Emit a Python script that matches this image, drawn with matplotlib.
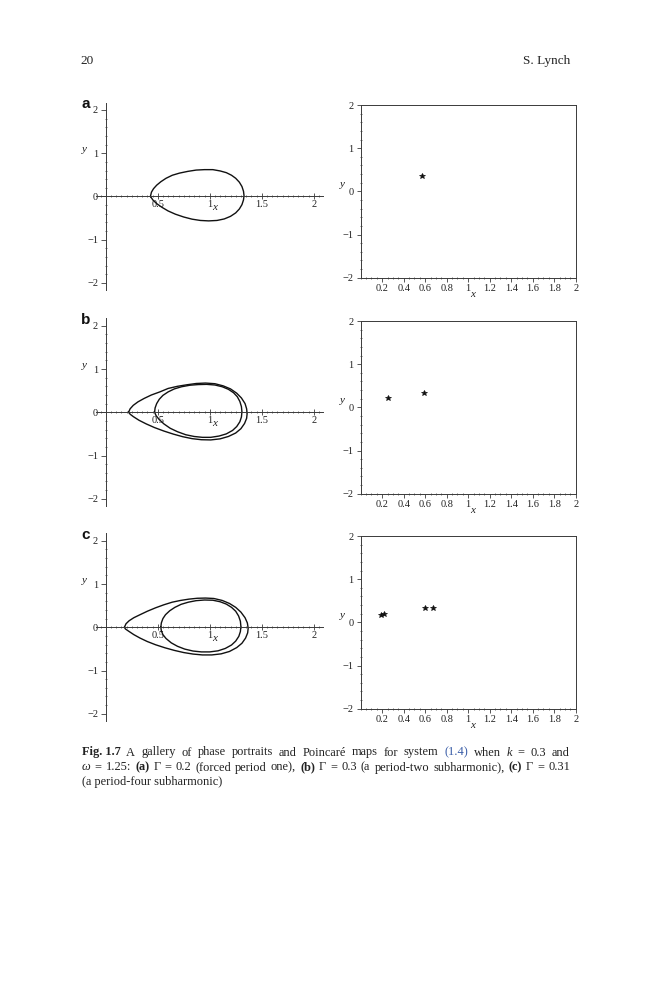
import matplotlib
matplotlib.use("Agg")
import matplotlib.pyplot as plt
from matplotlib.ticker import MultipleLocator, FixedLocator

W, H = 659, 1000

# ---------------- data ----------------
# Panel (a): period-one orbit, Gamma = 0.2
loop_a_x = [0.430, 0.440, 0.460, 0.490, 0.530, 0.580, 0.640, 0.710, 0.790, 0.870,
            0.950, 1.030, 1.100, 1.160, 1.210, 1.250, 1.285, 1.310, 1.325, 1.330,
            1.325, 1.310, 1.285, 1.250, 1.200, 1.140, 1.070, 0.990, 0.910, 0.830,
            0.750, 0.670, 0.600, 0.540, 0.490, 0.455, 0.430]
loop_a_y = [0.00, 0.10, 0.18, 0.26, 0.34, 0.42, 0.49, 0.54, 0.58, 0.61,
            0.62, 0.62, 0.59, 0.55, 0.49, 0.42, 0.33, 0.23, 0.12, 0.02,
            -0.08, -0.19, -0.29, -0.38, -0.46, -0.52, -0.555, -0.565, -0.555, -0.525,
            -0.475, -0.41, -0.335, -0.25, -0.165, -0.085, 0.00]

# Panel (b): period-two orbit, Gamma = 0.3 (outer and inner lobes)
loop_b1_x = [0.220, 0.235, 0.265, 0.310, 0.370, 0.440, 0.520, 0.600, 0.690, 0.780,
             0.870, 0.960, 1.050, 1.130, 1.200, 1.260, 1.305, 1.340, 1.355, 1.360,
             1.355, 1.335, 1.300, 1.250, 1.180, 1.100, 1.010, 0.920, 0.830, 0.740,
             0.650, 0.560, 0.470, 0.390, 0.320, 0.265, 0.235, 0.220]
loop_b1_y = [0.00, 0.08, 0.16, 0.24, 0.32, 0.40, 0.47, 0.55, 0.60, 0.635,
             0.665, 0.675, 0.66, 0.61, 0.54, 0.44, 0.33, 0.20, 0.08, -0.03,
             -0.14, -0.26, -0.38, -0.48, -0.56, -0.615, -0.64, -0.635, -0.61, -0.565,
             -0.505, -0.435, -0.355, -0.27, -0.185, -0.10, -0.045, 0.00]
loop_b2_x = [0.470, 0.475, 0.490, 0.515, 0.550, 0.600, 0.660, 0.730, 0.810, 0.890,
             0.970, 1.050, 1.120, 1.180, 1.230, 1.265, 1.290, 1.305, 1.310,
             1.305, 1.290, 1.260, 1.220, 1.160, 1.090, 1.010, 0.930, 0.850, 0.770,
             0.690, 0.620, 0.560, 0.515, 0.485, 0.470]
loop_b2_y = [0.00, 0.10, 0.20, 0.30, 0.39, 0.47, 0.54, 0.59, 0.625, 0.64,
             0.645, 0.63, 0.59, 0.53, 0.45, 0.36, 0.25, 0.13, 0.01,
             -0.11, -0.22, -0.33, -0.42, -0.50, -0.55, -0.58, -0.58, -0.56, -0.52,
             -0.45, -0.37, -0.27, -0.17, -0.08, 0.00]

# Panel (c): period-four orbit, Gamma = 0.31 (outer and inner lobes)
loop_c1_x = [0.180, 0.195, 0.225, 0.270, 0.330, 0.400, 0.480, 0.560, 0.640, 0.720,
             0.800, 0.880, 0.960, 1.040, 1.120, 1.190, 1.250, 1.300, 1.340, 1.362,
             1.370, 1.365, 1.345, 1.310, 1.260, 1.190, 1.110, 1.020, 0.930, 0.840,
             0.750, 0.660, 0.570, 0.480, 0.400, 0.330, 0.270, 0.220, 0.190, 0.180]
loop_c1_y = [0.00, 0.08, 0.15, 0.22, 0.29, 0.37, 0.45, 0.52, 0.58, 0.62,
             0.65, 0.67, 0.675, 0.665, 0.62, 0.55, 0.46, 0.35, 0.22, 0.10,
             -0.02, -0.13, -0.25, -0.37, -0.47, -0.56, -0.615, -0.64, -0.64, -0.62,
             -0.585, -0.535, -0.475, -0.405, -0.33, -0.25, -0.17, -0.09, -0.04, 0.00]
loop_c2_x = [0.530, 0.535, 0.550, 0.575, 0.615, 0.665, 0.725, 0.795, 0.870, 0.950,
             1.030, 1.100, 1.160, 1.210, 1.250, 1.278, 1.295, 1.300,
             1.295, 1.280, 1.250, 1.210, 1.150, 1.080, 1.000, 0.920, 0.840, 0.760,
             0.690, 0.630, 0.580, 0.550, 0.535, 0.530]
loop_c2_y = [0.00, 0.10, 0.20, 0.29, 0.38, 0.46, 0.53, 0.58, 0.615, 0.63,
             0.625, 0.59, 0.535, 0.46, 0.37, 0.26, 0.14, 0.02,
             -0.10, -0.21, -0.32, -0.41, -0.49, -0.545, -0.57, -0.57, -0.55, -0.505,
             -0.44, -0.36, -0.26, -0.17, -0.08, 0.00]

# Poincare map points
poinc_a_x = [0.57]
poinc_a_y = [0.36]
poinc_b_x = [0.25, 0.59]
poinc_b_y = [0.21, 0.34]
poinc_c_x = [0.19, 0.22, 0.60, 0.67]
poinc_c_y = [0.18, 0.20, 0.34, 0.34]

phase_xticks = [0.5, 1, 1.5, 2]
phase_xlabels = ["0.5", "1", "1.5", "2"]
yticks = [-2, -1, 0, 1, 2]
ylabels = ["\u22122", "\u22121", "0", "1", "2"]
map_xticks = [0.2, 0.4, 0.6, 0.8, 1.0, 1.2, 1.4, 1.6, 1.8, 2.0]
map_xlabels = ["0.2", "0.4", "0.6", "0.8", "1", "1.2", "1.4", "1.6", "1.8", "2"]
panel_letters = ["a", "b", "c"]

# ---------------- figure ----------------
SERIF = "Liberation Serif"
AX_COL = "#3a3a3a"
TXT_COL = "#222222"
TICK_FS = 7.5

fig = plt.figure(figsize=(W / 100, H / 100), dpi=100)
fig.patch.set_facecolor("white")


def frac_rect(left, top, width, height):
    return [left / W, 1 - (top + height) / H, width / W, height / H]


def style_ticks(ax):
    for lab in ax.get_xticklabels() + ax.get_yticklabels():
        lab.set_fontfamily(SERIF)
        lab.set_fontsize(TICK_FS)
        lab.set_color(TXT_COL)


def phase_axes(top, loops, letter):
    xlim = (-0.09, 2.09)
    ylim = (-2.17, 2.17)
    sx, sy = 104.0, 43.25
    left = 105.7 + xlim[0] * sx
    width = (xlim[1] - xlim[0]) * sx
    height = (ylim[1] - ylim[0]) * sy
    ax = fig.add_axes(frac_rect(left, top, width, height))
    ax.patch.set_visible(False)
    ax.set_xlim(*xlim)
    ax.set_ylim(*ylim)
    for s in ("top", "right"):
        ax.spines[s].set_visible(False)
    ax.spines["left"].set_position(("data", 0))
    ax.spines["bottom"].set_position(("data", 0))
    for s in ("left", "bottom"):
        ax.spines[s].set_color(AX_COL)
        ax.spines[s].set_linewidth(0.7)
    ax.xaxis.set_major_locator(FixedLocator(phase_xticks))
    ax.set_xticklabels(phase_xlabels)
    ax.yaxis.set_major_locator(FixedLocator(yticks))
    ax.set_yticklabels(ylabels)
    ax.xaxis.set_minor_locator(MultipleLocator(0.05))
    ax.yaxis.set_minor_locator(MultipleLocator(0.2))
    ax.tick_params(axis="x", which="major", direction="inout", length=4, width=0.6,
                   color=AX_COL, pad=0.5)
    ax.tick_params(axis="y", which="major", direction="out", length=3.5, width=0.6,
                   color=AX_COL, pad=2)
    ax.tick_params(which="minor", direction="inout", length=2, width=0.5, color=AX_COL)
    style_ticks(ax)
    for lx, ly in loops:
        ax.plot(lx, ly, color="#111111", lw=1.0, solid_joinstyle="round")
    ax.text(1.05, -0.25, "x", fontfamily=SERIF, fontstyle="italic", fontsize=8,
            color=TXT_COL, ha="center", va="center")
    ax.text(-0.2, 1.08, "y", fontfamily=SERIF, fontstyle="italic", fontsize=8,
            color=TXT_COL, ha="center", va="center")
    fig.text(86 / W, 1 - (top + 1.5) / H, letter, fontfamily="Liberation Sans",
             fontweight="bold", fontsize=11, color="#111111", ha="center", va="center")
    return ax


def map_axes(top, px, py):
    left, width, height = 360.7, 215.0, 172.7
    ax = fig.add_axes(frac_rect(left, top, width, height))
    ax.set_xlim(0, 2)
    ax.set_ylim(-2, 2)
    for s in ax.spines.values():
        s.set_color(AX_COL)
        s.set_linewidth(0.7)
    ax.xaxis.set_major_locator(FixedLocator(map_xticks))
    ax.set_xticklabels(map_xlabels)
    ax.yaxis.set_major_locator(FixedLocator(yticks))
    ax.set_yticklabels(ylabels)
    ax.xaxis.set_minor_locator(MultipleLocator(0.05))
    ax.yaxis.set_minor_locator(MultipleLocator(0.2))
    ax.tick_params(which="major", direction="out", length=3, width=0.6,
                   color=AX_COL)
    ax.tick_params(axis="x", which="major", pad=1.5)
    ax.tick_params(axis="y", which="major", pad=2)
    ax.tick_params(which="minor", direction="inout", length=2, width=0.5, color=AX_COL)
    style_ticks(ax)
    ax.plot(px, py, linestyle="none", marker="*", markersize=4,
            color="#111111", markeredgewidth=0.5)
    ax.text(1.04, -2.38, "x", fontfamily=SERIF, fontstyle="italic", fontsize=8,
            color=TXT_COL, ha="center", va="center")
    ax.text(-0.17, 0.15, "y", fontfamily=SERIF, fontstyle="italic", fontsize=8,
            color=TXT_COL, ha="center", va="center")
    return ax


tops_phase = [102.6, 318.4, 533.4]
tops_map = [105.0, 321.0, 536.0]

phase_axes(tops_phase[0], [(loop_a_x, loop_a_y)], panel_letters[0])
phase_axes(tops_phase[1], [(loop_b1_x, loop_b1_y), (loop_b2_x, loop_b2_y)], panel_letters[1])
phase_axes(tops_phase[2], [(loop_c1_x, loop_c1_y), (loop_c2_x, loop_c2_y)], panel_letters[2])

map_axes(tops_map[0], poinc_a_x, poinc_a_y)
map_axes(tops_map[1], poinc_b_x, poinc_b_y)
map_axes(tops_map[2], poinc_c_x, poinc_c_y)

# ---------------- header ----------------
fig.text(80 / W, 1 - 64 / H, "20", fontfamily=SERIF, fontsize=9.5, color=TXT_COL,
         ha="left", va="baseline")
fig.text(570 / W, 1 - 64 / H, "S. Lynch", fontfamily=SERIF, fontsize=9.5, color=TXT_COL,
         ha="right", va="baseline")

# ---------------- caption (justified) ----------------
CAP_FS = 8.9
BLUE = "#3b5ea8"
renderer = fig.canvas.get_renderer()


def mk(txt, st):
    kw = dict(fontfamily=SERIF, fontsize=CAP_FS, color=TXT_COL, va="baseline", ha="left")
    if "b" in st:
        kw["fontweight"] = "bold"
    if "i" in st:
        kw["fontstyle"] = "italic"
    if "c" in st:
        kw["color"] = BLUE
    return fig.text(0, 0, txt, **kw)


def draw_line(words, base_px, left_px=81.7, right_px=570.0):
    items = []
    for word in words:
        runs = []
        total = 0.0
        for txt, st in word:
            t = mk(txt, st)
            w = t.get_window_extent(renderer).width
            runs.append((t, w))
            total += w
        items.append((runs, total))
    total_w = sum(w for _, w in items)
    gap = (right_px - left_px - total_w) / (len(items) - 1)
    x = left_px
    for runs, _ in items:
        for t, w in runs:
            t.set_position((x / W, 1 - base_px / H))
            x += w
        x += gap


def N(s):
    return [(s, "n")]


line1 = [[("Fig. 1.7", "b")]] + [N(w) for w in
         "A gallery of phase portraits and Poincaré maps for system".split()] + \
        [[("(1.4)", "c")], N("when"), [("k", "i")], N("="), N("0.3"), N("and")]
line2 = [[("\u03c9", "i")], N("="), N("1.25:"), [("(a)", "b")], N("\u0393"), N("="), N("0.2"),
         N("(forced"), N("period"), N("one),"), [("(b)", "b")], N("\u0393"), N("="), N("0.3"),
         N("(a"), N("period-two"), N("subharmonic),"), [("(c)", "b")], N("\u0393"), N("="),
         N("0.31")]

draw_line(line1, 755.5)
draw_line(line2, 770.5)
t3 = mk("(a period-four subharmonic)", "n")
t3.set_position((81.7 / W, 1 - 785.5 / H))

fig.savefig("out.png", dpi=100, facecolor="white")
